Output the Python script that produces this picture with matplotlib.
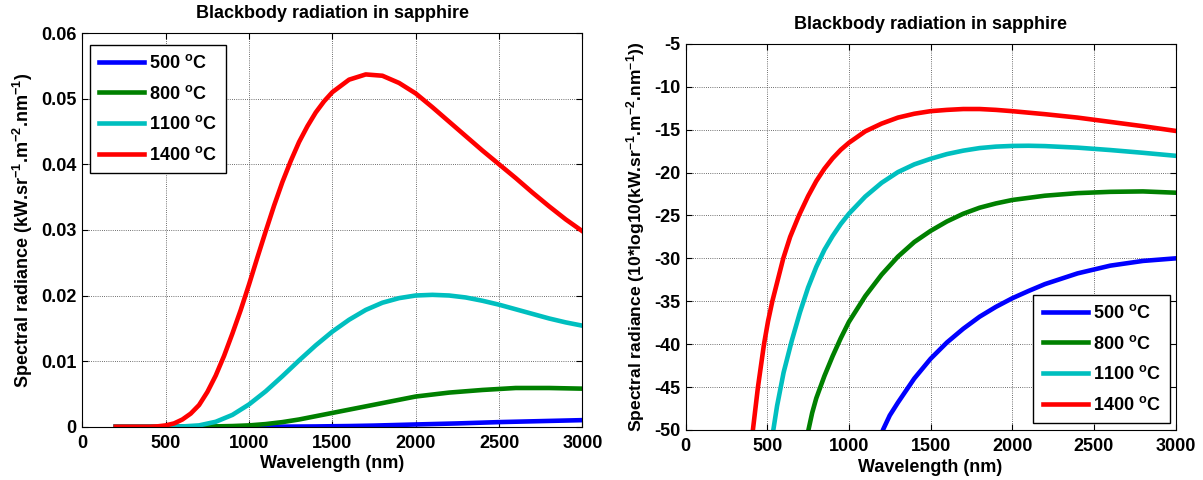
import matplotlib
matplotlib.use('Agg')
import matplotlib.pyplot as plt

plt.rcParams['font.family'] = ['Liberation Sans', 'DejaVu Sans']
plt.rcParams['font.weight'] = 'bold'
plt.rcParams['mathtext.fontset'] = 'custom'
plt.rcParams['mathtext.rm'] = 'Liberation Sans:bold'
plt.rcParams['mathtext.bf'] = 'Liberation Sans:bold'
plt.rcParams['mathtext.it'] = 'Liberation Sans:bold'
plt.rcParams['axes.unicode_minus'] = False

# ---------------- data ----------------
series_labels = ['500 $^{o}$C', '800 $^{o}$C', '1100 $^{o}$C', '1400 $^{o}$C']
colors = ['#0000FF', '#008000', '#00BFBF', '#FF0000']

# Left panel: linear spectral radiance (kW.sr-1.m-2.nm-1)
wl_lin_500 = [200, 1000, 1200, 1400, 1500, 1600, 1750, 2000, 2250, 2500, 2750, 3000]
lin_500 = [0.0, 0.0, 0.00001, 0.00004, 0.00007, 0.0001, 0.00017, 0.00034, 0.0005, 0.0007, 0.00085, 0.0010]

wl_lin_800 = [200, 700, 900, 1000, 1100, 1200, 1300, 1400, 1500, 1600, 1700, 1800, 1900,
              2000, 2200, 2400, 2600, 2800, 3000]
lin_800 = [0.0, 0.0, 0.0001, 0.0002, 0.0004, 0.0007, 0.0011, 0.0016, 0.0021, 0.0026, 0.0031,
           0.0036, 0.0041, 0.0046, 0.0052, 0.0056, 0.0059, 0.0059, 0.0058]

wl_lin_1100 = [200, 500, 600, 700, 800, 900, 1000, 1100, 1200, 1300, 1400, 1500, 1600, 1700,
               1800, 1900, 2000, 2100, 2200, 2300, 2400, 2500, 2600, 2700, 2800, 2900, 3000]
lin_1100 = [0.0, 0.0, 0.00004, 0.0002, 0.00075, 0.0018, 0.0034, 0.0054, 0.0077, 0.0101, 0.0124,
            0.0145, 0.0163, 0.0178, 0.0189, 0.0196, 0.0200, 0.0201, 0.0200, 0.0197, 0.0192,
            0.0186, 0.0179, 0.0172, 0.0165, 0.0159, 0.0154]

wl_lin_1400 = [200, 300, 400, 450, 500, 550, 600, 650, 700, 750, 800, 850, 900, 950, 1000,
               1050, 1100, 1150, 1200, 1250, 1300, 1350, 1400, 1450, 1500, 1600, 1700, 1800,
               1900, 2000, 2100, 2200, 2300, 2400, 2500, 2600, 2700, 2800, 2900, 3000]
lin_1400 = [0.0, 0.0, 0.0, 0.00005, 0.0002, 0.0005, 0.0011, 0.0020, 0.0033, 0.0053, 0.0078,
            0.0108, 0.0142, 0.0178, 0.0217, 0.0258, 0.0298, 0.0337, 0.0373, 0.0405, 0.0434,
            0.0458, 0.0479, 0.0496, 0.0510, 0.0529, 0.0537, 0.0535, 0.0524, 0.0508, 0.0487,
            0.0465, 0.0443, 0.0421, 0.0400, 0.0379, 0.0357, 0.0336, 0.0316, 0.0298]

# Right panel: 10*log10 of spectral radiance
wl_db_500 = [1190, 1208, 1250, 1300, 1400, 1500, 1600, 1700, 1800, 1900, 2000, 2100, 2200,
             2400, 2600, 2800, 3000]
db_500 = [-52.0, -50.0, -48.3, -46.8, -44.0, -41.7, -39.8, -38.2, -36.8, -35.65, -34.65, -33.8,
          -33.0, -31.75, -30.85, -30.3, -30.0]

wl_db_800 = [745, 752, 775, 800, 850, 900, 950, 1000, 1100, 1200, 1300, 1400, 1500, 1600, 1700,
             1800, 1900, 2000, 2200, 2400, 2600, 2800, 3000]
db_800 = [-52.0, -50.0, -48.0, -46.3, -43.7, -41.4, -39.3, -37.4, -34.4, -31.9, -29.8, -28.1,
          -26.8, -25.7, -24.8, -24.1, -23.6, -23.2, -22.7, -22.4, -22.25, -22.2, -22.35]

wl_db_1100 = [530, 537, 560, 600, 650, 700, 750, 800, 850, 900, 950, 1000, 1100, 1200, 1300,
              1400, 1500, 1600, 1700, 1800, 1900, 2000, 2100, 2200, 2400, 2600, 2800, 3000]
db_1100 = [-52.0, -50.0, -47.2, -43.3, -39.6, -36.3, -33.4, -31.0, -29.0, -27.4, -26.0, -24.8,
           -22.8, -21.2, -19.95, -19.05, -18.4, -17.85, -17.45, -17.15, -16.98, -16.9, -16.88,
           -16.92, -17.1, -17.38, -17.7, -18.05]

wl_db_1400 = [405, 412, 443, 480, 505, 531, 598, 640, 694, 750, 800, 850, 900, 950, 1000, 1100,
              1200, 1300, 1400, 1500, 1600, 1700, 1800, 1900, 2000, 2200, 2400, 2600, 2800, 3000]
db_1400 = [-52.0, -50.0, -45.0, -40.0, -37.3, -35.0, -30.0, -27.5, -25.0, -22.75, -21.0,
           -19.55, -18.35, -17.35, -16.53, -15.2, -14.3, -13.6, -13.15, -12.85, -12.7, -12.6,
           -12.6, -12.7, -12.85, -13.2, -13.6, -14.1, -14.6, -15.15]

x_ticks = [0, 500, 1000, 1500, 2000, 2500, 3000]
x_ticklabels = ['0', '500', '1000', '1500', '2000', '2500', '3000']
y1_ticks = [0, 0.01, 0.02, 0.03, 0.04, 0.05, 0.06]
y1_ticklabels = ['0', '0.01', '0.02', '0.03', '0.04', '0.05', '0.06']
y2_ticks = [-50, -45, -40, -35, -30, -25, -20, -15, -10, -5]
y2_ticklabels = ['-50', '-45', '-40', '-35', '-30', '-25', '-20', '-15', '-10', '-5']

title_text = 'Blackbody radiation in sapphire'
xlabel_text = 'Wavelength (nm)'
ylabel1_text = 'Spectral radiance (kW.sr$^{-1}$.m$^{-2}$.nm$^{-1}$)'
ylabel2_text = 'Spectral radiance (10*log10(kW.sr$^{-1}$.m$^{-2}$.nm$^{-1}$))'

# ---------------- figure ----------------
W, H = 1203, 480
fig = plt.figure(figsize=(W / 100, H / 100), dpi=100)
ax1_box = (82.4, 33.1, 582.4, 426.7)     # left, top, right, bottom in pixels
ax2_box = (685.6, 43.8, 1175.6, 430.0)
ax1 = fig.add_axes([ax1_box[0] / W, 1 - ax1_box[3] / H, (ax1_box[2] - ax1_box[0]) / W,
                    (ax1_box[3] - ax1_box[1]) / H])
ax2 = fig.add_axes([ax2_box[0] / W, 1 - ax2_box[3] / H, (ax2_box[2] - ax2_box[0]) / W,
                    (ax2_box[3] - ax2_box[1]) / H])

lin_sets = [(wl_lin_500, lin_500), (wl_lin_800, lin_800), (wl_lin_1100, lin_1100), (wl_lin_1400, lin_1400)]
db_sets = [(wl_db_500, db_500), (wl_db_800, db_800), (wl_db_1100, db_1100), (wl_db_1400, db_1400)]

for (x, y), c, lab in zip(lin_sets, colors, series_labels):
    ax1.plot(x, y, color=c, lw=3.3, label=lab, solid_joinstyle='round')
for (x, y), c, lab in zip(db_sets, colors, series_labels):
    ax2.plot(x, y, color=c, lw=3.3, label=lab, solid_joinstyle='round')

FS = 13

def style(ax, box, yticks, ylabels, ylim, ylabel, ylab_fs, ylab_x, xlab_y, title_y):
    ax.set_xlim(0, 3000)
    ax.set_ylim(*ylim)
    ax.set_xticks(x_ticks)
    ax.set_xticklabels(x_ticklabels)
    ax.set_yticks(yticks)
    ax.set_yticklabels(ylabels)
    ax.tick_params(direction='in', length=4, width=0.8, top=True, right=True,
                   labelsize=FS, colors='black')
    ax.tick_params(axis='x', pad=6)
    ax.tick_params(axis='y', pad=4)
    for lbl in ax.get_xticklabels() + ax.get_yticklabels():
        lbl.set_fontweight('bold')
    ax.grid(True, color='#404040', linestyle=(0, (1, 1.6)), linewidth=0.6)
    ax.set_axisbelow(True)
    for s in ax.spines.values():
        s.set_linewidth(0.8)
        s.set_color('black')
    wpx = box[2] - box[0]
    hpx = box[3] - box[1]
    ax.set_xlabel(xlabel_text, fontsize=FS, fontweight='bold')
    ax.xaxis.label.set_va('center')
    ax.xaxis.set_label_coords(0.5, (box[3] - xlab_y) / hpx)
    ax.set_ylabel(ylabel, fontsize=ylab_fs, fontweight='bold')
    ax.yaxis.label.set_va('center')
    ax.yaxis.set_label_coords((ylab_x - box[0]) / wpx, 0.5)
    t = ax.set_title(title_text, fontsize=FS, fontweight='bold', pad=0,
                     y=(box[3] - title_y) / hpx)
    t.set_va('center')

style(ax1, ax1_box, y1_ticks, y1_ticklabels, (0, 0.06), ylabel1_text, 13, 23, 463, 13)
style(ax2, ax2_box, y2_ticks, y2_ticklabels, (-50, -5), ylabel2_text, 12.6, 636, 467, 24)

leg_kw = dict(fontsize=FS, frameon=True, fancybox=False, edgecolor='black',
              handlelength=2.5, handletextpad=0.3, labelspacing=0.7,
              borderpad=0.5, borderaxespad=0, framealpha=1)
leg1 = ax1.legend(loc='upper left', bbox_to_anchor=(0.015, 0.970), **leg_kw)
leg2 = ax2.legend(loc='lower right', bbox_to_anchor=(0.9886, 0.018), **leg_kw)
for leg in (leg1, leg2):
    leg.get_frame().set_linewidth(1.0)
    for t in leg.get_texts():
        t.set_fontweight('bold')

fig.savefig('out.png', dpi=100, facecolor='white')
